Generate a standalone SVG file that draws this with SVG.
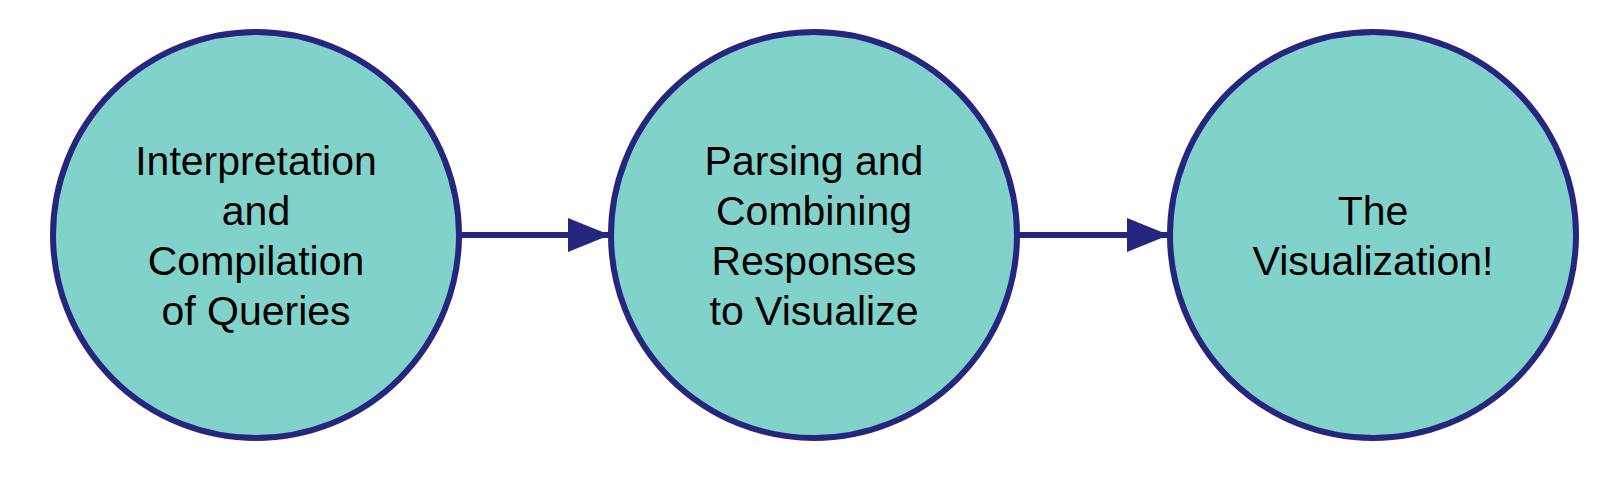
<svg xmlns="http://www.w3.org/2000/svg" width="1613" height="491" viewBox="0 0 1613 491">
<style>
.node{fill:#81d2cb;stroke:#26267f;stroke-width:6}
.lbl{font-family:"Liberation Sans",Arial,sans-serif;font-size:41px;fill:#000;text-anchor:middle}
.edge{stroke:#26267f;stroke-width:6;fill:none}
</style>
<defs>
<marker id="arr" markerUnits="userSpaceOnUse" markerWidth="44" markerHeight="36" refX="42" refY="17" orient="auto">
<path d="M0,0 L42,17 L0,34 Z" fill="#26267f"/>
</marker>
</defs>
<rect width="1613" height="491" fill="#fff"/>
<g id="connectors">
<line class="edge" x1="459" y1="235" x2="610" y2="235" marker-end="url(#arr)"/>
<line class="edge" x1="1017" y1="235" x2="1169" y2="235" marker-end="url(#arr)"/>
</g>
<g id="node1">
<circle class="node" cx="256" cy="235" r="203"/>
<text class="lbl" x="256" y="175">Interpretation</text>
<text class="lbl" x="256" y="225">and</text>
<text class="lbl" x="256" y="275">Compilation</text>
<text class="lbl" x="256" y="325">of Queries</text>
</g>
<g id="node2">
<circle class="node" cx="814" cy="235" r="203"/>
<text class="lbl" x="814" y="175">Parsing and</text>
<text class="lbl" x="814" y="225">Combining</text>
<text class="lbl" x="814" y="275">Responses</text>
<text class="lbl" x="814" y="325">to Visualize</text>
</g>
<g id="node3">
<circle class="node" cx="1373" cy="235" r="203"/>
<text class="lbl" x="1373" y="225">The</text>
<text class="lbl" x="1373" y="275">Visualization!</text>
</g>
</svg>
